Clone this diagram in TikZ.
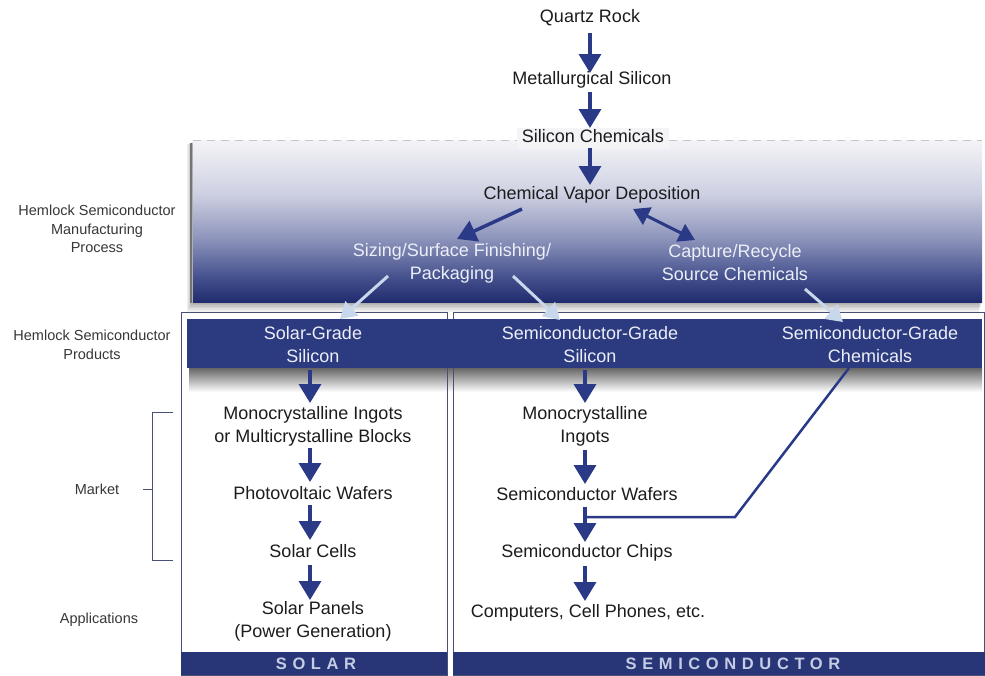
\documentclass[tikz,border=0pt]{standalone}
\usepackage{fontspec}
\setmainfont{Liberation Sans}
\usetikzlibrary{arrows.meta}
\definecolor{navy}{RGB}{44,58,128}
\definecolor{arrc}{RGB}{42,58,135}
\definecolor{barc}{RGB}{40,53,118}
\definecolor{lightc}{RGB}{200,215,236}
\definecolor{txtc}{RGB}{28,28,30}
\definecolor{lblc}{RGB}{55,55,58}
\definecolor{wtc}{RGB}{236,239,247}
\definecolor{bartxt}{RGB}{196,205,228}
\definecolor{framec}{RGB}{72,80,118}
\definecolor{g0}{RGB}{244,244,247}
\definecolor{g1}{RGB}{204,207,225}
\definecolor{g2}{RGB}{138,145,185}
\definecolor{g3}{RGB}{72,84,144}
\definecolor{g4}{RGB}{32,44,110}
\begin{document}
\begin{tikzpicture}[x=1pt,y=-1pt,
  txt/.style={font=\fontsize{18}{23}\selectfont, text=txtc, align=center, inner sep=2pt},
  one/.style={text height=13pt, text depth=4pt},
  wtxt/.style={txt, text=wtc},
  lbl/.style={font=\fontsize{14.5}{18.5}\selectfont, text=lblc, align=center, inner sep=1pt},
  bartext/.style={font=\fontsize{16.5}{18}\selectfont\bfseries\addfontfeature{LetterSpace=34}, text=bartxt, inner sep=0pt},
  darr/.style={-{Triangle[width=22pt,length=19pt]}, line width=3.5pt, draw=arrc},
  larr/.style={-{Triangle[width=19pt,length=16pt]}, line width=3pt, draw=lightc},
  dbl/.style={{Triangle[width=19pt,length=16pt]}-{Triangle[width=19pt,length=16pt]}, line width=3pt, draw=arrc},
  frame/.style={draw=framec, line width=0.8pt},
  brk/.style={draw=framec, line width=1pt}
]
\useasboundingbox (0,0) rectangle (985,675);
\fill[white] (0,0) rectangle (985,675);

% process box shadow
\foreach \i in {1,...,6}
  \fill[black, opacity=0.06] (193-\i,141+0.5*\i) rectangle (982-0.5*\i,302+1.6*\i);
\draw[black!55, line width=1.2pt] (191,143) -- (191,303);
% process box gradient
\shade[top color=g0, bottom color=g1] (193,140) rectangle (982,195.5);
\shade[top color=g1, bottom color=g2] (193,195) rectangle (982,240.5);
\shade[top color=g2, bottom color=g3] (193,240) rectangle (982,275.5);
\shade[top color=g3, bottom color=g4] (193,275) rectangle (982,302);
\draw[black!22, line width=1pt, dash pattern=on 8pt off 6pt] (193,140) -- (982,140);

% band shadow
\shade[top color=black!60, bottom color=white] (189,368) rectangle (982,392);

% frames
\draw[frame] (181,312) rectangle (447,675);
\draw[frame] (453,312) rectangle (984,675);

% product band
\fill[navy] (187,319) rectangle (982,368);

% bottom bars
\fill[barc] (181,652) rectangle (447,675);
\fill[barc] (453,652) rectangle (985,675);
\node[bartext] (bsol) at (316,664) {SOLAR};
\node[bartext] (bsem) at (733,664) {SEMICONDUCTOR};

% left labels
\node[lbl] (l1) at (97,229) {Hemlock Semiconductor\\Manufacturing\\Process};
\node[lbl] (l2) at (92,345) {Hemlock Semiconductor\\Products};
\node[lbl] (l3) at (97,489) {Market};
\node[lbl] (l4) at (99,620) {Applications};
\coordinate (bt) at (173,412);
\coordinate (bb) at (173,560);
\draw[brk] (bt) -- (152,412) -- (152,560) -- (bb);
\draw[brk] (143,489) -- (152,489);

% top chain
\node[txt,one] (qr) at (590,18) {Quartz Rock};
\node[txt,one] (ms) at (592,80) {Metallurgical Silicon};
\node[txt,one,fill=g0,inner xsep=5pt] (sc) at (593,138) {Silicon Chemicals};
\node[txt,one] (cvd) at (592,195) {Chemical Vapor Deposition};
\node[wtxt] (siz) at (452,263) {Sizing/Surface Finishing/\\Packaging};
\node[wtxt] (cap) at (735,263) {Capture/Recycle\\Source Chemicals};

% products
\node[wtxt] (sgs) at (313,345) {Solar-Grade\\Silicon};
\node[wtxt] (scs) at (590,345) {Semiconductor-Grade\\Silicon};
\node[wtxt] (scc) at (870,345) {Semiconductor-Grade\\Chemicals};

% solar column
\node[txt] (s1) at (313,426) {Monocrystalline Ingots\\or Multicrystalline Blocks};
\node[txt,one] (s2) at (313,495) {Photovoltaic Wafers};
\node[txt,one] (s3) at (313,553) {Solar Cells};
\node[txt] (s4) at (313,621) {Solar Panels\\(Power Generation)};

% semiconductor column
\node[txt] (m1) at (585,426) {Monocrystalline\\Ingots};
\node[txt,one] (m2) at (587,496) {Semiconductor Wafers};
\node[txt,one] (m3) at (587,553) {Semiconductor Chips};
\node[txt,one] (m4) at (588,613) {Computers, Cell Phones, etc.};

% arrows
\draw[darr] ([shift={(0,15)}]qr.center) -- ([shift={(-2,-7)}]ms.center);
\draw[darr] ([shift={(-2,12)}]ms.center) -- ([shift={(-3,-10)}]sc.center);
\draw[darr] ([shift={(-3,10)}]sc.center) -- ([shift={(-2,-10)}]cvd.center);
\draw[darr] ([shift={(-70,14)}]cvd.center) -- ([shift={(5,-24)}]siz.center);
\draw[dbl] ([shift={(41,14)}]cvd.center) -- ([shift={(-40,-23)}]cap.center);
\draw[larr] ([shift={(-64,13)}]siz.center) -- ([shift={(27,-26)}]sgs.center);
\draw[larr] ([shift={(61,13)}]siz.center) -- ([shift={(-30,-25)}]scs.center);
\draw[larr] ([shift={(70,26)}]cap.center) -- ([shift={(-27,-23)}]scc.center);

\draw[darr] ([shift={(-3,25)}]sgs.center) -- ([shift={(-3,-23)}]s1.center);
\draw[darr] ([shift={(-3,22)}]s1.center) -- ([shift={(-3,-13)}]s2.center);
\draw[darr] ([shift={(-3,10)}]s2.center) -- ([shift={(-3,-13)}]s3.center);
\draw[darr] ([shift={(-3,12)}]s3.center) -- ([shift={(-3,-21)}]s4.center);

\draw[darr] ([shift={(-5,25)}]scs.center) -- ([shift={(0,-23)}]m1.center);
\draw[darr] ([shift={(0,24)}]m1.center) -- ([shift={(-2,-12)}]m2.center);
\draw[darr] ([shift={(-2,11)}]m2.center) -- ([shift={(-2,-11)}]m3.center);
\draw[darr] ([shift={(-2,13)}]m3.center) -- ([shift={(-3,-12)}]m4.center);

\coordinate (join) at ([shift={(-2,21)}]m2.center);
\draw[draw=arrc, line width=2.5pt, line join=miter] ([shift={(-21,23)}]scc.center) -- (735,517) -- (join);
\end{tikzpicture}
\end{document}
